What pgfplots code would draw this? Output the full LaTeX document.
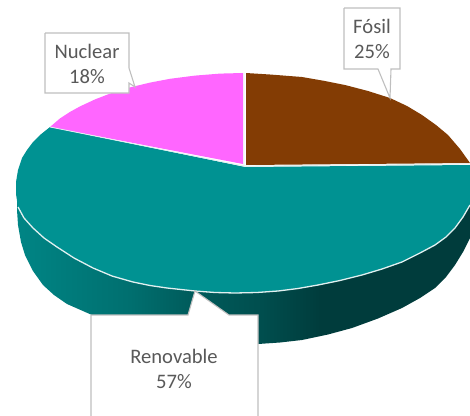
\documentclass[border=0pt]{standalone}
\usepackage{fontspec}
\setmainfont{Carlito}
\usepackage{pgfplots}
\pgfplotsset{compat=1.18}
\definecolor{tealTop}{RGB}{0,146,146}
\definecolor{pinkTop}{RGB}{255,102,255}
\definecolor{brownTop}{RGB}{131,60,4}
\definecolor{edgeLine}{RGB}{225,240,240}
\definecolor{boxLine}{RGB}{191,191,191}
\definecolor{labelText}{RGB}{89,89,89}
\definecolor{wallA}{RGB}{0,133,133}
\definecolor{wallB}{RGB}{0,111,111}
\definecolor{wallC}{RGB}{0,92,92}
\definecolor{wallD}{RGB}{0,78,78}
\definecolor{wallE}{RGB}{0,60,60}
\pgfdeclarehorizontalshading{wall}{100bp}{color(0bp)=(wallA); color(25bp)=(wallA); color(37.5bp)=(wallB); color(44bp)=(wallC); color(52bp)=(wallD); color(58.5bp)=(wallE); color(100bp)=(wallE)}
\tikzset{lbl/.style={font=\fontsize{20.6}{25}\selectfont, text=labelText, align=center, inner sep=0pt}}
\begin{document}
\begin{tikzpicture}
\useasboundingbox (0,0) rectangle (470pt,415pt);
\begin{axis}[
    width=470pt, height=415pt, scale only axis,
    xmin=0, xmax=470, ymin=0, ymax=415, y dir=reverse,
    hide axis, no markers
]
    % side wall
    \addplot[draw=none, shade, shading=wall] coordinates {
        (17,190) (17,210) (18,225) (21,242) (25,255) (33,271) (43,285) (54,295) (67,304)
        (92,315) (130,330) (165,338) (200,342) (258,344) (280,342.5) (302,340) (328,334.5)
        (352,328) (378,318.5) (402,308) (420,298) (435,288) (446,277) (455,265) (463,252)
        (470,238) (470,190) (17,190)
    };
    % Renovable top
    \addplot[draw=none, fill=tealTop] coordinates {
        (245,167) (50,127) (40,135) (33,142) (27,150) (22,158) (18,170) (16,182) (16,194)
        (18,207) (24,218) (33,228) (44,238) (57,247) (74,258) (93,268) (112,276) (133,282)
        (150,285.5) (167,288) (195,291) (215,292.5) (235,293) (257,292.5) (278,291)
        (298,288.5) (318,285) (340,280.5) (362,275) (382,269) (402,262) (420,253) (435,245)
        (446,237) (455,228) (463,217) (470,205) (470,165) (245,167)
    };
    % light rim along the front of the top
    \addplot[edgeLine, line width=1.3pt] coordinates {
        (18,207) (24,218) (33,228) (44,238) (57,247) (74,258) (93,268) (112,276) (133,282)
        (150,285.5) (167,288) (195,291) (215,292.5) (235,293) (257,292.5) (278,291)
        (298,288.5) (318,285) (340,280.5) (362,275) (382,269) (402,262) (420,253) (435,245)
        (446,237) (455,228) (463,217) (470,205)
    };
    % Nuclear
    \addplot[draw=none, fill=pinkTop] coordinates {
        (243,164) (243,73) (220,73.6) (195,75.6) (170,78.8) (150,82.6) (130,87.4) (110,93.6)
        (95,99.4) (80,106.4) (70,111.9) (60,118.4) (50,127) (243,164)
    };
    % Fosil
    \addplot[draw=none, fill=brownTop] coordinates {
        (246,165) (246,73) (270,74.5) (302,77) (325,81) (345,85) (368,91) (390,98) (407,106)
        (422,115) (436,125) (448,135) (460,149) (470,163) (246,165)
    };
    % slice separators
    \addplot[edgeLine, line width=0.8pt] coordinates {(50,127) (244,166) (244,73)};
    \addplot[edgeLine, line width=0.8pt] coordinates {(244,166) (470,164)};

    % callouts
    \addplot[draw=boxLine, fill=white, line width=1.1pt] coordinates {
        (45,33) (129,33) (129,68) (135,87) (129,83) (129,93) (45,93) (45,33)
    };
    \addplot[draw=boxLine, fill=white, line width=1.1pt] coordinates {
        (344,8) (400,8) (400,69) (391,69) (390,98) (378,69) (344,69) (344,8)
    };
    \addplot[draw=boxLine, fill=white, line width=1.1pt] coordinates {
        (91,430) (91,315) (188,315) (195,291) (229,315) (258,315) (258,430) (91,430)
    };

    \node[lbl] at (axis cs:87,64) {Nuclear\\18\%};
    \node[lbl] at (axis cs:372,39) {Fósil\\25\%};
    \node[lbl] at (axis cs:174,369) {Renovable\\57\%};
\end{axis}
\end{tikzpicture}
\end{document}
